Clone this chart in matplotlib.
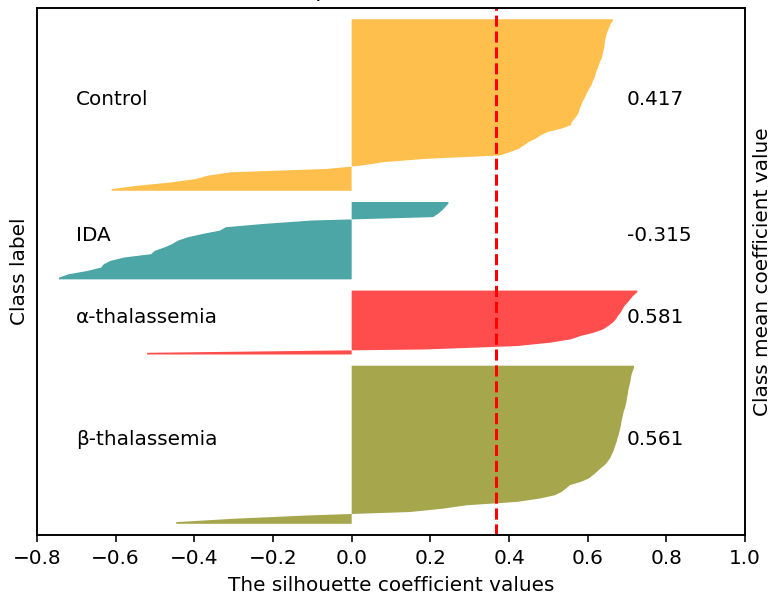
import matplotlib

matplotlib.use("Agg")
import matplotlib.pyplot as plt
import numpy as np

# Class names, bottom to top as drawn
class_names = ["β-thalassemia", "α-thalassemia", "IDA", "Control"]
class_colors = ["olive", "red", "teal", "orange"]
class_means = ["0.561", "0.581", "-0.315", "0.417"]

# Sorted silhouette values per class (ascending)
beta_vals = [-0.446, -0.30, -0.107, 0.148, 0.232, 0.292, 0.419, 0.478, 0.517,
             0.534, 0.545, 0.555, 0.584, 0.603, 0.614, 0.624, 0.633, 0.644,
             0.651, 0.657, 0.661, 0.665, 0.668, 0.671, 0.674, 0.676, 0.679,
             0.681, 0.683, 0.685, 0.686, 0.688, 0.690, 0.692, 0.695,
             0.697, 0.699, 0.700, 0.702, 0.703, 0.705, 0.707, 0.709, 0.710,
             0.712, 0.715, 0.718]
alpha_vals = [-0.52, 0.187, 0.42, 0.504, 0.557, 0.582, 0.616, 0.64, 0.653,
              0.664, 0.672, 0.677, 0.684, 0.689, 0.694, 0.702, 0.709, 0.716,
              0.726]
ida_vals = [-0.744, -0.72, -0.672, -0.637, -0.63, -0.613, -0.578, -0.51,
            -0.50, -0.476, -0.456, -0.442, -0.417, -0.379, -0.335, -0.32,
            -0.222, -0.10, 0.207, 0.22, 0.23, 0.238, 0.246]
control_vals = [-0.61, -0.545, -0.458, -0.396, -0.365, -0.308, -0.062, 0.025,
                0.08, 0.19, 0.377, 0.403, 0.425, 0.438, 0.45, 0.468, 0.481,
                0.499, 0.534, 0.557, 0.56, 0.567, 0.574, 0.578, 0.58, 0.584,
                0.587, 0.592, 0.596, 0.6, 0.605, 0.61, 0.613, 0.617, 0.62,
                0.622, 0.626, 0.629, 0.632, 0.636, 0.638, 0.64, 0.642, 0.643,
                0.644, 0.646, 0.648, 0.651, 0.655, 0.658, 0.664]

overall_mean = 0.366
xticks = [-0.8, -0.6, -0.4, -0.2, 0.0, 0.2, 0.4, 0.6, 0.8, 1.0]

class_vals = [beta_vals, alpha_vals, ida_vals, control_vals]

fig = plt.figure(figsize=(769 / 144, 594 / 144), dpi=144)
ax = fig.add_axes([0.0481, 0.0993, 0.9207, 0.8872])

gap = 10 / 3
y_lower = gap
for name, vals, color, mean_txt in zip(class_names, class_vals, class_colors, class_means):
    vals = np.asarray(vals)
    n = len(vals)
    # each value sits at the centre of its row, ends held flat to the block edges
    y = np.concatenate([[y_lower], y_lower + 0.5 + np.arange(n), [y_lower + n]])
    x = np.concatenate([[vals[0]], vals, [vals[-1]]])
    ax.fill_betweenx(y, 0, x, facecolor=color, edgecolor="none", alpha=0.7)
    ax.text(-0.70, y_lower + 0.5 * n, name)
    ax.text(0.70, y_lower + 0.5 * n, mean_txt)
    y_lower += n + gap

ax.axvline(x=overall_mean, color="red", linestyle="--", linewidth=1.5)

ax.set_xlim(-0.8, 1.0)
ax.set_ylim(0, y_lower)
ax.set_xticks(xticks)
ax.set_yticks([])
ax.set_xlabel("The silhouette coefficient values")
ax.set_ylabel("Class label")
ax.set_title("The silhouette plot for the various classes.")

ax2 = ax.twinx()
ax2.set_yticks([])
ax2.set_ylabel("Class mean coefficient value")

fig.savefig("out.png", dpi=144)
